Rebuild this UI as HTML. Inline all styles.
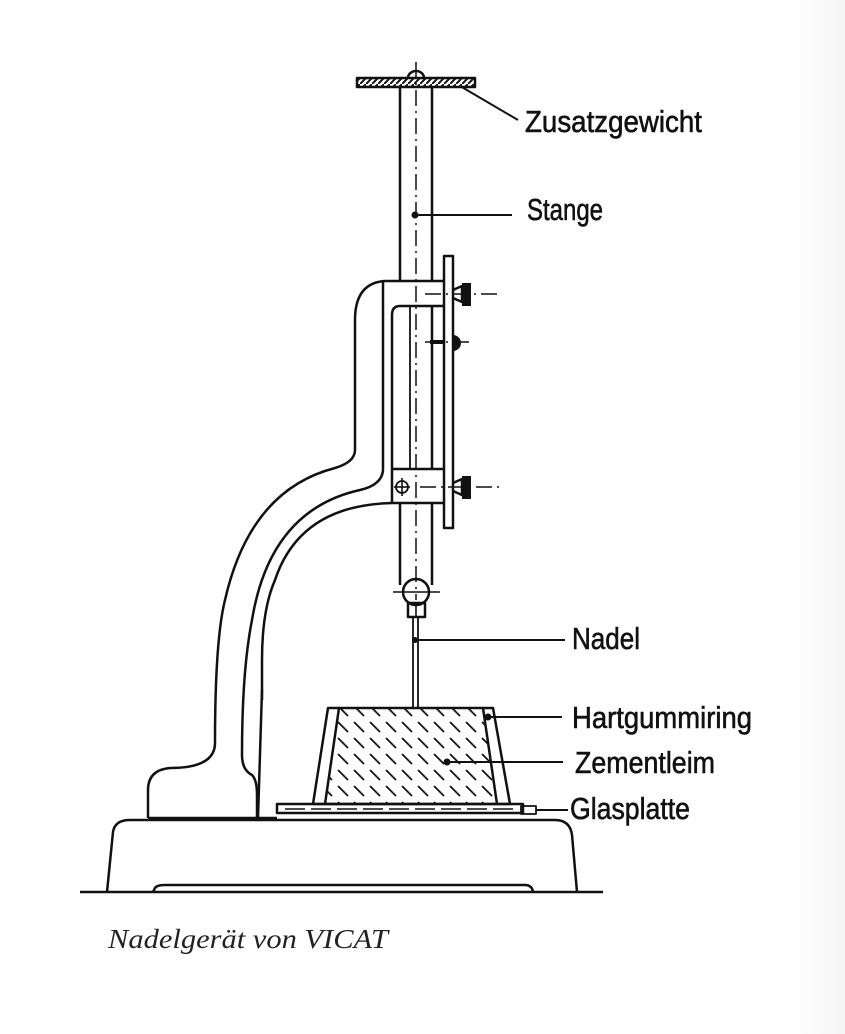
<!DOCTYPE html>
<html><head><meta charset="utf-8"><style>
html,body{margin:0;padding:0;background:#fff;}
svg{display:block;}
.l{font-family:"Liberation Sans Narrow","Liberation Sans",sans-serif;font-size:31px;fill:#111;stroke:#111;stroke-width:0.6;}
</style></head><body>
<svg width="845" height="1034" viewBox="0 0 845 1034" xmlns="http://www.w3.org/2000/svg">
<defs>
<pattern id="hatch" width="16" height="16" patternUnits="userSpaceOnUse">
<line x1="2" y1="2" x2="12" y2="12" stroke="#111" stroke-width="1.8"/>
</pattern>
<pattern id="wh" width="6" height="6" patternUnits="userSpaceOnUse">
<line x1="0" y1="6" x2="6" y2="0" stroke="#111" stroke-width="2"/>
</pattern>
<linearGradient id="edge" x1="0" x2="1"><stop offset="0" stop-color="#fff"/><stop offset="1" stop-color="#f5f5f5"/></linearGradient>
</defs>
<rect x="0" y="0" width="845" height="1034" fill="#fff"/>
<rect x="790" y="0" width="55" height="1034" fill="url(#edge)"/>
<g fill="none" stroke="#111" stroke-width="2.5" stroke-linejoin="round">
<path d="M408,78 A8,7 0 0 1 424,78" />
<rect x="357" y="78" width="118" height="9" fill="url(#wh)"/>
<line x1="400" y1="87" x2="400" y2="281"/>
<line x1="432" y1="87" x2="432" y2="281"/>
<line x1="400" y1="503" x2="400" y2="585"/>
<line x1="432" y1="503" x2="432" y2="585"/>
<line x1="432" y1="306" x2="432" y2="469"/>
<line x1="410" y1="306" x2="410" y2="469" stroke-width="1.8"/>
<path d="M444,281 L385,281 Q355,283 355,320 L355,450 Q355,462 335,468 Q250,490 225,600 Q215,640 215,743 Q215,768 170,768 Q148,770 148,790 L148,818"/>
<path d="M383,281 L383,470 Q382,485 360,490 Q270,510 252,620 Q242,670 242,755 Q242,770 252,775 Q257,780 257,795 L257,818"/>
<path d="M392,503 Q300,505 275,580 Q262,610 262,660 L262,700"/>
<path d="M262,690 L258,818" />
<path d="M444,306 L400,306 Q392,306 392,315 L392,503 L444,503"/>
<line x1="392" y1="469" x2="444" y2="469"/>
<rect x="444" y="256" width="9" height="272"/>
<circle cx="402" cy="487" r="6" stroke-width="1.8"/>
<line x1="402" y1="478" x2="402" y2="496" stroke-width="1.6"/>
<line x1="394" y1="487" x2="410" y2="487" stroke-width="1.6"/>
<circle cx="416" cy="592" r="13"/>
<rect x="408" y="603" width="17" height="14"/>
<line x1="416" y1="603" x2="416" y2="617" stroke-width="1.6"/>
<line x1="393" y1="592" x2="440" y2="592" stroke-width="1.6"/>
<line x1="413" y1="617" x2="413" y2="708" stroke-width="1.8"/>
<line x1="418" y1="617" x2="418" y2="708" stroke-width="1.8"/>
<path d="M328,708 L493,708 L510,804 L313,804 Z"/>
<path d="M339,708 L325,804 M483,708 L497,804"/>
<path d="M339,708 L483,708 L497,804 L325,804 Z" fill="url(#hatch)" stroke="none"/>
<rect x="277" y="804" width="246" height="9"/>
<line x1="285" y1="809" x2="515" y2="809" stroke-width="1.4" stroke-dasharray="20,6"/>
<rect x="521" y="806" width="15" height="8" stroke-width="1.8"/>
<path d="M107,892 L113,832 Q115,820 130,820 L555,820 Q570,820 572,835 L577,892"/>
<line x1="148" y1="818" x2="277" y2="818"/>
<path d="M153,892 L155,888 Q157,885 165,885 L525,885 Q532,885 533,892"/>
<line x1="80" y1="892" x2="603" y2="892"/>
<path d="M453,290 L462,286 L462,302 L453,298"/>
<path d="M453,483 L462,479 L462,495 L453,491"/>
</g>
<g fill="#111">
<rect x="462" y="283" width="9" height="23"/>
<rect x="462" y="476" width="9" height="23"/>
<path d="M453,335 A8,8 0 0 1 453,351 Z"/>
<rect x="430" y="340" width="14" height="4"/>
<circle cx="415" cy="215" r="3.5"/>
<circle cx="415" cy="640" r="3"/>
<circle cx="488" cy="717" r="3.5"/>
<circle cx="447" cy="762" r="3.5"/>
</g>
<g stroke="#111" stroke-width="1.5" fill="none" stroke-dasharray="16,5,2,5">
<line x1="416" y1="62" x2="416" y2="600"/>
<line x1="425" y1="294" x2="500" y2="294"/>
<line x1="425" y1="342" x2="470" y2="342"/>
<line x1="420" y1="487" x2="502" y2="487"/>
</g>
<g stroke="#111" stroke-width="2">
<line x1="460" y1="86" x2="518" y2="120"/>
<line x1="415" y1="215" x2="512" y2="215"/>
<line x1="415" y1="640" x2="565" y2="640"/>
<line x1="488" y1="717" x2="562" y2="717"/>
<line x1="447" y1="762" x2="563" y2="762"/>
<line x1="536" y1="810" x2="568" y2="810"/>
</g>
<text class="l" x="525" y="132" textLength="177" lengthAdjust="spacingAndGlyphs">Zusatzgewicht</text>
<text class="l" x="527" y="220" textLength="76" lengthAdjust="spacingAndGlyphs">Stange</text>
<text class="l" x="572" y="649" textLength="68" lengthAdjust="spacingAndGlyphs">Nadel</text>
<text class="l" x="572" y="728" textLength="180" lengthAdjust="spacingAndGlyphs">Hartgummiring</text>
<text class="l" x="575" y="773" textLength="140" lengthAdjust="spacingAndGlyphs">Zementleim</text>
<text class="l" x="570" y="819" textLength="120" lengthAdjust="spacingAndGlyphs">Glasplatte</text>
<text x="108" y="948" font-family="Liberation Serif, serif" font-style="italic" font-size="27" fill="#222" textLength="280" lengthAdjust="spacingAndGlyphs">Nadelgerät von VICAT</text>
</svg>
</body></html>
